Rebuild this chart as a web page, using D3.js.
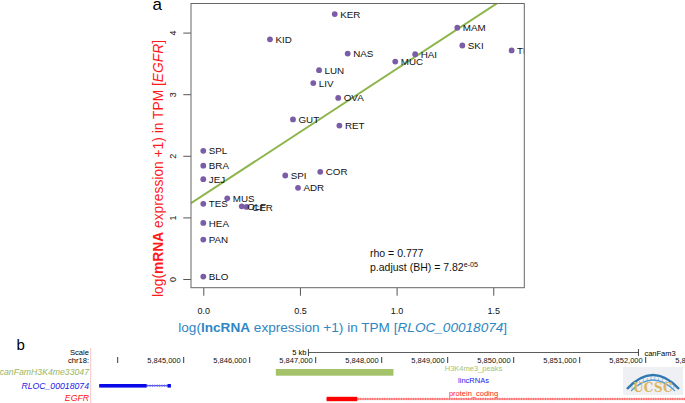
<!DOCTYPE html>
<html><head><meta charset="utf-8">
<script src="https://cdn.jsdelivr.net/npm/d3@7"></script>
<style>body{margin:0;background:#fff;} svg{display:block;font-family:"Liberation Sans",Arial,Helvetica,sans-serif;}</style>
</head><body><svg id="c" width="685" height="403"></svg>
<script>
// ---- panel a data ----
const tissues = ["KER","KID","NAS","MUC","HAI","MAM","SKI","THY","LUN","LIV","OVA","GUT","RET","SPL","BRA","JEJ","TES","MUS","OLF","CER","HEA","PAN","BLO","SPI","COR","ADR"];
const lncRNA  = [0.680,0.345,0.747,0.993,1.096,1.314,1.340,1.595,0.599,0.569,0.698,0.464,0.704,0,0,0,0,0.124,0.199,0.224,0,0,0,0.424,0.605,0.490];
const mRNA    = [4.30,3.89,3.66,3.53,3.65,4.08,3.79,3.71,3.39,3.18,2.94,2.59,2.49,2.08,1.84,1.62,1.22,1.31,1.18,1.17,0.91,0.64,0.04,1.68,1.74,1.48];
const xTicks = [0, 0.5, 1.0, 1.5];
const yTicks = [0, 1, 2, 3, 4];
const fitCoef = [1.36, 2.05]; // intercept, slope
const rhoText = "rho = 0.777";
const padjText = ["p.adjust (BH) = 7.82", "e-05"];

// ---- panel b data ----
const coordTicks = [5844000,5845000,5846000,5847000,5848000,5849000,5850000,5851000,5852000,5853000];
const scaleBarBp = [5846890, 5851890];
const peakRegion = [5846396, 5848178];
const lncExons = [[5843721, 5844439], [5844755, 5844806]];
const egfrExons = [[5847166, 5847630]];
const egfrSpan = [5847166, 5854000];
const trackNames = ["canFamH3K4me33047", "RLOC_00018074", "EGFR"];
const trackTypes = ["H3K4me3_peaks", "lincRNAs", "protein_coding"];

const svg = d3.select("#c");
svg.append("rect").attr("width",685).attr("height",403).attr("fill","#fff");

// ================= Panel a =================
const L=191, R=524.3, T=3.5, B=287.7;
const x = d3.scaleLinear().domain([-0.0636, 1.6606]).range([L, R]);
const y = d3.scaleLinear().domain([-0.141, 4.472]).range([B, T]);

svg.append("clipPath").attr("id","plotclip").append("rect")
  .attr("x",L).attr("y",T).attr("width",R-L).attr("height",B-T);

const pa = svg.append("g");
// x axis
const xa = pa.append("g").attr("transform",`translate(0,${B})`)
  .call(d3.axisBottom(x).tickValues(xTicks).tickFormat(d3.format(".1f")).tickSize(8).tickPadding(11.5));
xa.select(".domain").remove();
xa.selectAll("line").attr("stroke","#555");
xa.selectAll("text").attr("font-size",9).attr("fill","#111").attr("font-family",null);

// y axis
const ya = pa.append("g").attr("transform",`translate(${L},0)`)
  .call(d3.axisLeft(y).tickValues(yTicks).tickFormat(d3.format("d")).tickSize(7.7));
ya.select(".domain").remove();
ya.selectAll("line").attr("stroke","#555");
ya.selectAll("text").attr("font-size",9).attr("fill","#111").attr("font-family",null)
  .attr("x",null).attr("dy","0.35em").attr("text-anchor","middle")
  .attr("transform","translate(-17.7,0) rotate(-90)");

// regression line
const clipG = pa.append("g").attr("clip-path","url(#plotclip)");
const xd = x.domain();
clipG.append("line")
  .attr("x1",x(xd[0])).attr("y1",y(fitCoef[0]+fitCoef[1]*xd[0]))
  .attr("x2",x(xd[1])).attr("y2",y(fitCoef[0]+fitCoef[1]*xd[1]))
  .attr("stroke","#8db54c").attr("stroke-width",2);

// points + labels
const pts = tissues.map((t,i)=>({t, x:lncRNA[i], y:mRNA[i]}));
clipG.selectAll("circle").data(pts).join("circle")
  .attr("cx",d=>x(d.x)).attr("cy",d=>y(d.y)).attr("r",2.9).attr("fill","#7b5ca6");
clipG.selectAll("text.lab").data(pts).join("text").attr("class","lab")
  .attr("x",d=>x(d.x)+5.5).attr("y",d=>y(d.y)+3.6)
  .attr("font-size",9.8).attr("fill","#111").text(d=>d.t);

// box
pa.append("rect").attr("x",L).attr("y",T).attr("width",R-L).attr("height",B-T)
  .attr("fill","none").attr("stroke","#666").attr("stroke-width",1);

// stats text
pa.append("text").attr("x",370).attr("y",257).attr("font-size",10.5).attr("fill","#111").text(rhoText);
const pt = pa.append("text").attr("x",370).attr("y",270.5).attr("font-size",10.5).attr("fill","#111");
pt.append("tspan").text(padjText[0]);
pt.append("tspan").attr("font-size",7.2).attr("dy",-4).text(padjText[1]);

// axis titles
const xt = pa.append("text").attr("x",342.7).attr("y",331.5).attr("text-anchor","middle")
  .attr("font-size",13.6).attr("fill","#2f86c2");
xt.append("tspan").text("log(");
xt.append("tspan").attr("font-weight","bold").text("lncRNA");
xt.append("tspan").text(" expression +1) in TPM [");
xt.append("tspan").attr("font-style","italic").text("RLOC_00018074");
xt.append("tspan").text("]");

const yt = pa.append("text").attr("transform","translate(158.5,168.5) rotate(-90)")
  .attr("text-anchor","middle").attr("dy","0.35em").attr("font-size",13.8).attr("fill","#ff1a1a");
yt.append("tspan").text("log(");
yt.append("tspan").attr("font-weight","bold").text("mRNA");
yt.append("tspan").text(" expression +1) in TPM [");
yt.append("tspan").attr("font-style","italic").text("EGFR");
yt.append("tspan").text("]");

svg.append("text").attr("x",152.5).attr("y",9.5).attr("font-size",17).attr("fill","#000").text("a");

// ================= Panel b =================
svg.append("text").attr("x",16.5).attr("y",350).attr("font-size",15).attr("fill","#000").text("b");
const g = d3.scaleLinear().domain([5844000, 5852000]).range([117.7, 645.7]);
const pb = svg.append("g");

pb.append("line").attr("x1",90.7).attr("x2",90.7).attr("y1",348).attr("y2",403)
  .attr("stroke","#f5c4c4").attr("stroke-width",1);

pb.append("text").attr("x",89).attr("y",355).attr("text-anchor","end").attr("font-size",7.6).text("Scale");
pb.append("text").attr("x",89).attr("y",362.6).attr("text-anchor","end").attr("font-size",7.6).text("chr18:");

const nameColors = ["#9ab65e","#1a1ae6","#ff1010"];
const nameY = [374.8, 388.6, 401.2];
trackNames.forEach((n,i)=>{
  pb.append("text").attr("x",89).attr("y",nameY[i]).attr("text-anchor","end")
    .attr("font-size",8.7).attr("font-style","italic").attr("fill",nameColors[i]).text(n);
});

// coordinate ticks
const fmt = d3.format(",");
coordTicks.forEach((c,i)=>{
  const cx = g(c);
  pb.append("line").attr("x1",cx).attr("x2",cx).attr("y1",357).attr("y2",363).attr("stroke","#222").attr("stroke-width",0.9);
  if(i>0) pb.append("text").attr("x",cx-3).attr("y",362.8).attr("text-anchor","end").attr("font-size",7.5).attr("fill","#111").text(fmt(c));
});

// scale bar
const sb0 = g(scaleBarBp[0]), sb1 = g(scaleBarBp[1]);
pb.append("line").attr("x1",sb0).attr("x2",sb1).attr("y1",352.5).attr("y2",352.5).attr("stroke","#333").attr("stroke-width",0.8);
[sb0,sb1].forEach(v=>pb.append("line").attr("x1",v).attr("x2",v).attr("y1",349).attr("y2",356).attr("stroke","#333").attr("stroke-width",0.9));
pb.append("text").attr("x",sb0-2).attr("y",355).attr("text-anchor","end").attr("font-size",7.5).text("5 kb");
pb.append("text").attr("x",sb1+6).attr("y",356).attr("font-size",7.5).text("canFam3");

// track type labels
const typeColors = ["#a6c46f","#2020e8","#ff2020"];
const typeY = [371, 383.4, 396];
trackTypes.forEach((t,i)=>{
  pb.append("text").attr("x",473.5).attr("y",typeY[i]).attr("text-anchor","middle")
    .attr("font-size",7.5).attr("fill",typeColors[i]).text(t);
});

// peak
pb.append("rect").attr("x",g(peakRegion[0])).attr("y",369).attr("width",g(peakRegion[1])-g(peakRegion[0])).attr("height",6.7)
  .attr("fill","#a3c26a");

// lncRNA gene
const lnc0 = d3.min(lncExons,d=>d[0]), lnc1 = d3.max(lncExons,d=>d[1]);
pb.append("line").attr("x1",g(lnc0)).attr("x2",g(lnc1)).attr("y1",385.7).attr("y2",385.7).attr("stroke","#1a1ae6").attr("stroke-width",0.9);
pb.append("line").attr("x1",g(lnc0)).attr("x2",g(lnc1)).attr("y1",385.7).attr("y2",385.7).attr("stroke","#6a6af0").attr("stroke-width",2.6).attr("stroke-dasharray","0.8,1.6");
lncExons.forEach(e=>pb.append("rect").attr("x",g(e[0])).attr("y",384).attr("width",g(e[1])-g(e[0])).attr("height",3.6).attr("fill","#0a0ae8"));

// EGFR gene
pb.append("line").attr("x1",g(egfrSpan[0])).attr("x2",g(egfrSpan[1])).attr("y1",399).attr("y2",399).attr("stroke","#ff3030").attr("stroke-width",0.9);
pb.append("line").attr("x1",g(egfrSpan[0])).attr("x2",g(egfrSpan[1])).attr("y1",399).attr("y2",399).attr("stroke","#ff6060").attr("stroke-width",2.6).attr("stroke-dasharray","0.8,1.6");
egfrExons.forEach(e=>pb.append("rect").attr("x",g(e[0])).attr("y",396.8).attr("width",g(e[1])-g(e[0])).attr("height",4.4).attr("fill","#f00"));

// UCSC logo
const logo = pb.append("g").attr("transform","translate(623,367)");
logo.append("rect").attr("width",60).attr("height",28).attr("fill","#eef0f3");
logo.append("path").attr("d","M4,22 Q30,-6 56,22").attr("fill","none").attr("stroke","#2f78b0").attr("stroke-width",2.4);
logo.append("path").attr("d","M8,24 Q30,2 52,24").attr("fill","none").attr("stroke","#5b9ccc").attr("stroke-width",1.2);
for(let k=0;k<12;k++){
  const xx = 9+k*3.8;
  const t = (xx-4)/52; const yy = 22 - 28*2*t*(1-t)*1.0;
  logo.append("line").attr("x1",xx).attr("x2",xx).attr("y1",yy+2).attr("y2",yy+5).attr("stroke","#6fa6d4").attr("stroke-width",0.6);
}
logo.append("text").attr("x",30).attr("y",25).attr("text-anchor","middle").attr("font-size",12).attr("font-weight","bold")
  .attr("font-family","DejaVu Serif, serif").attr("fill","#dcb561").attr("letter-spacing",0.5).text("UCSC");
</script></body></html>
